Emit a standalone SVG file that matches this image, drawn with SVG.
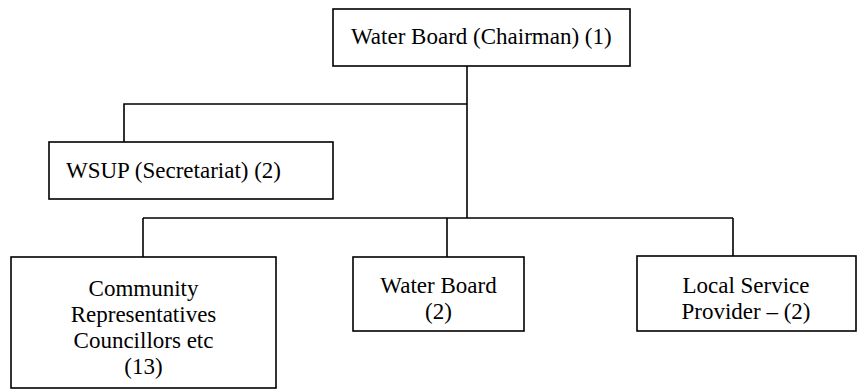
<svg xmlns="http://www.w3.org/2000/svg" width="859" height="390" viewBox="0 0 859 390">
<style>
.box{fill:#fff;stroke:#000;stroke-width:1.6}
.ln{fill:none;stroke:#000;stroke-width:1.6}
.c{text-anchor:middle}
</style>
<rect width="859" height="390" fill="#fff"/>
<g id="connectors">
<line class="ln" x1="467" y1="66" x2="467" y2="218"/>
<polyline class="ln" points="467,104 124,104 124,142"/>
<line class="ln" x1="143" y1="218" x2="733" y2="218"/>
<line class="ln" x1="143" y1="218" x2="143" y2="257"/>
<line class="ln" x1="447" y1="218" x2="447" y2="257"/>
<line class="ln" x1="733" y1="218" x2="733" y2="256"/>
</g>
<g font-family="Liberation Serif, Times New Roman, serif" font-size="23" fill="#000">
<g id="chairman">
<rect class="box" x="333" y="9" width="297" height="57"/>
<text x="351" y="44">Water Board (Chairman) (1)</text>
</g>
<g id="wsup">
<rect class="box" x="49" y="142" width="284" height="57"/>
<text x="66" y="178">WSUP (Secretariat) (2)</text>
</g>
<g id="community">
<rect class="box" x="11" y="257" width="265" height="131"/>
<text class="c" x="143.5" y="296">Community</text>
<text class="c" x="143.5" y="322">Representatives</text>
<text class="c" x="143.5" y="348">Councillors etc</text>
<text class="c" x="143.5" y="374">(13)</text>
</g>
<g id="waterboard">
<rect class="box" x="353" y="257" width="171" height="74"/>
<text class="c" x="438.5" y="293">Water Board</text>
<text class="c" x="438.5" y="319">(2)</text>
</g>
<g id="lsp">
<rect class="box" x="637" y="256" width="219" height="75"/>
<text class="c" x="746" y="293">Local Service</text>
<text class="c" x="746" y="319">Provider – (2)</text>
</g>
</g>
</svg>
